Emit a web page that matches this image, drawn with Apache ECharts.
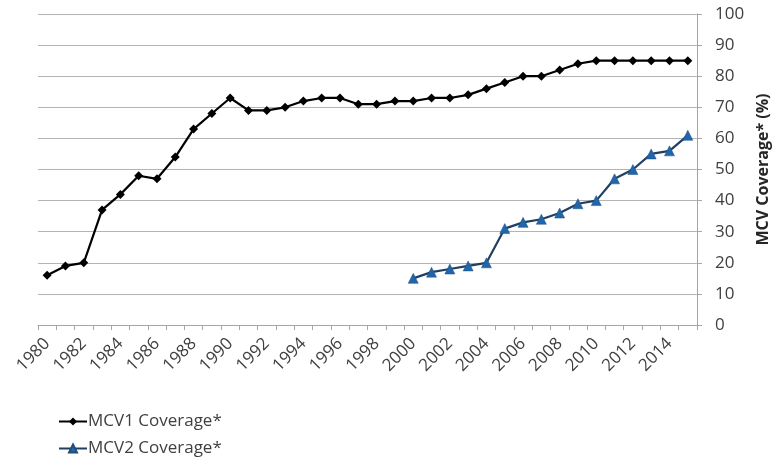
<!DOCTYPE html>
<html>
<head>
<meta charset="utf-8">
<script src="https://cdn.jsdelivr.net/npm/echarts@6/dist/echarts.min.js"></script>
<style>
  html, body { margin: 0; padding: 0; background: #fff; }
  #chart { width: 779px; height: 460px; }
</style>
</head>
<body>
<div id="chart"></div>
<script>
// Years on the category axis
const years = [];
for (let y = 1980; y <= 2015; y++) years.push(String(y));

// MCV1 coverage (%), 1980–2015
const mcv1 = [16, 19, 20, 37, 42, 48, 47, 54, 63, 68, 73, 69, 69, 70, 72, 73, 73, 71, 71, 72,
              72, 73, 73, 74, 76, 78, 80, 80, 82, 84, 85, 85, 85, 85, 85, 85];

// MCV2 coverage (%), reported from 2000 onward
const mcv2Start = 2000;
const mcv2Values = [15, 17, 18, 19, 20, 31, 33, 34, 36, 39, 40, 47, 50, 55, 56, 61];
const mcv2 = years.map(y => {
  const i = Number(y) - mcv2Start;
  return i >= 0 && i < mcv2Values.length ? mcv2Values[i] : null;
});

const FONT = '"Open Sans", "Liberation Sans", sans-serif';
const chart = echarts.init(document.getElementById('chart'), null, { renderer: 'canvas' });

chart.setOption({
  animation: false,
  textStyle: { fontFamily: FONT },
  grid: { left: 38, right: 76, top: 14, bottom: 135 },
  legend: {
    orient: 'vertical',
    left: 58,
    top: 412,
    padding: 0,
    itemGap: 8,
    itemWidth: 28,
    itemHeight: 10,
    textStyle: { fontFamily: FONT, fontSize: 17, lineHeight: 19, color: '#404040', padding: [0, 0, 0, -4] },
    data: ['MCV1 Coverage*', 'MCV2 Coverage*']
  },
  xAxis: {
    type: 'category',
    data: years,
    boundaryGap: true,
    axisLine: { lineStyle: { color: '#a6a6a6', width: 1 } },
    axisTick: { show: true, alignWithLabel: false, interval: 0, length: 5, lineStyle: { color: '#a6a6a6' } },
    axisLabel: {
      interval: 1,
      rotate: 45,
      margin: 16,
      fontSize: 17,
      color: '#404040',
      fontFamily: FONT
    },
    splitLine: { show: false }
  },
  yAxis: {
    type: 'value',
    position: 'right',
    min: 0,
    max: 100,
    interval: 10,
    name: 'MCV Coverage* (%)',
    nameLocation: 'middle',
    nameRotate: 90,
    nameGap: 50,
    nameTextStyle: { fontFamily: FONT, fontSize: 16, fontWeight: 'bold', color: '#262626' },
    axisLine: { show: true, lineStyle: { color: '#a6a6a6', width: 1 } },
    axisTick: { show: true, length: 5, lineStyle: { color: '#a6a6a6' } },
    axisLabel: { fontSize: 17, color: '#404040', margin: 18, fontFamily: FONT },
    splitLine: { show: true, lineStyle: { color: '#b4b4b4', width: 1.2 } }
  },
  series: [
    {
      name: 'MCV1 Coverage*',
      type: 'line',
      data: mcv1,
      symbol: 'diamond',
      symbolSize: 9,
      itemStyle: { color: '#000000' },
      lineStyle: { color: '#000000', width: 2.2 }
    },
    {
      name: 'MCV2 Coverage*',
      type: 'line',
      data: mcv2,
      connectNulls: false,
      symbol: 'triangle',
      symbolSize: 10,
      itemStyle: { color: '#2166ac', borderColor: '#1f4e79', borderWidth: 0.5 },
      lineStyle: { color: '#1f3f63', width: 2.2 }
    }
  ]
});
</script>
</body>
</html>
